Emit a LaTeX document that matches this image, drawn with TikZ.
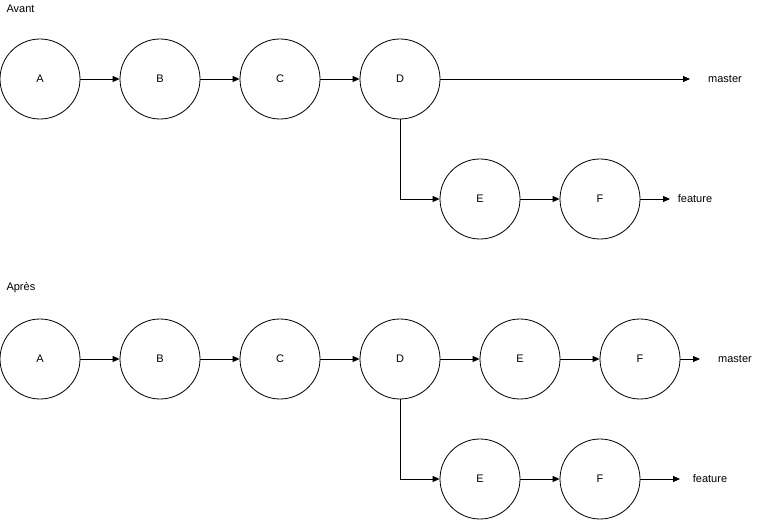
\documentclass[tikz,border=0pt]{standalone}
\usepackage{fontspec}
\setmainfont{Liberation Sans}
\usetikzlibrary{arrows.meta}
\begin{document}
\begin{tikzpicture}[x=1pt,y=-1pt,
  c/.style={circle,draw,line width=0.8pt,minimum size=80pt,inner sep=0pt,font=\fontsize{11}{13}\selectfont},
  a/.style={-{Triangle[length=7pt,width=6pt]},line width=0.8pt},
  t/.style={font=\fontsize{11}{13}\selectfont}]
\useasboundingbox (0,0) rectangle (761,521);
\node[t,anchor=west] (l1) at (3,9) {Avant};
\node[c] (A) at (40,79) {A};
\node[c] (B) at (160,79) {B};
\node[c] (C) at (280,79) {C};
\node[c] (D) at (400,79) {D};
\node[c] (E) at (480,199) {E};
\node[c] (F) at (600,199) {F};
\coordinate (m1) at (690,79);
\node[t] (mt1) at (725,79) {master};
\coordinate (f1) at (670,199);
\node[t] (ft1) at (695,199) {feature};
\draw[a] (A)--(B); \draw[a] (B)--(C); \draw[a] (C)--(D); \draw[a] (D)--(m1);
\draw[a] (D.south) |- (E.west); \draw[a] (E)--(F); \draw[a] (F)--(f1);

\node[t,anchor=west] (l2) at (3,288) {Après};
\node[c] (A2) at (40,359) {A};
\node[c] (B2) at (160,359) {B};
\node[c] (C2) at (280,359) {C};
\node[c] (D2) at (400,359) {D};
\node[c] (E2) at (520,359) {E};
\node[c] (F2) at (640,359) {F};
\node[c] (E3) at (480,479) {E};
\node[c] (F3) at (600,479) {F};
\coordinate (m2) at (700,359);
\node[t] (mt2) at (735,359) {master};
\coordinate (f2) at (680,479);
\node[t] (ft2) at (710,479) {feature};
\draw[a] (A2)--(B2); \draw[a] (B2)--(C2); \draw[a] (C2)--(D2); \draw[a] (D2)--(E2);
\draw[a] (E2)--(F2); \draw[a] (F2)--(m2);
\draw[a] (D2.south) |- (E3.west); \draw[a] (E3)--(F3); \draw[a] (F3)--(f2);
\end{tikzpicture}
\end{document}
